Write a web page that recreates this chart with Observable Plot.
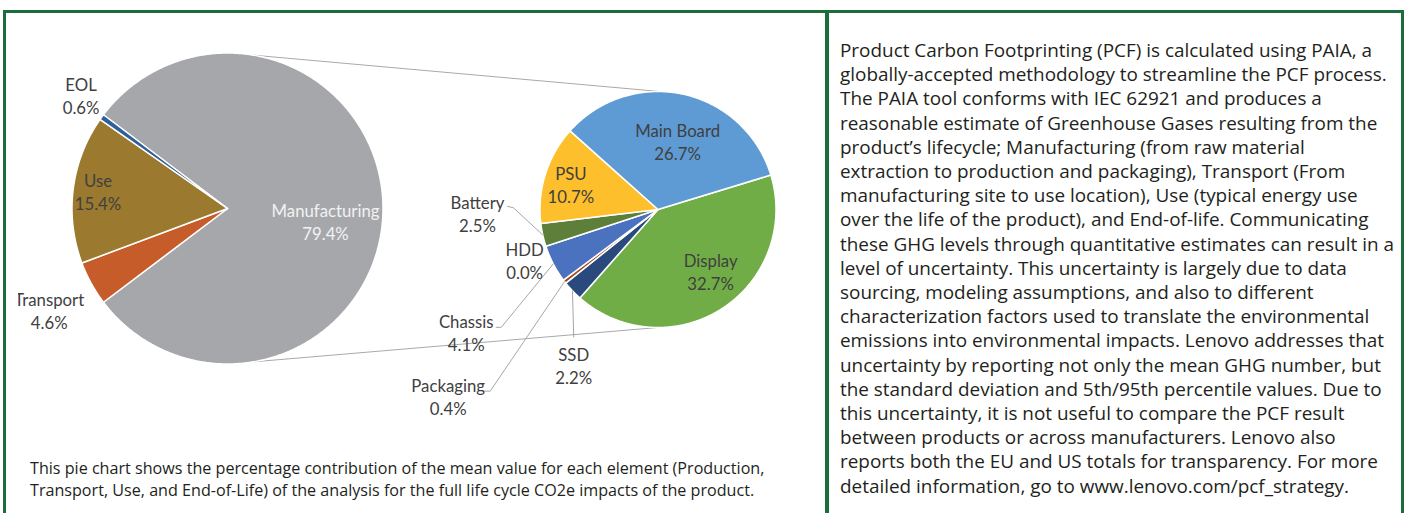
<!DOCTYPE html>
<html><head><meta charset="utf-8">
<script src="https://cdn.jsdelivr.net/npm/d3@7"></script>
<script src="https://cdn.jsdelivr.net/npm/@observablehq/plot@0.6"></script>
<style>
html,body{margin:0;padding:0;background:#fff;}
#root{position:relative;width:1407px;height:513px;overflow:hidden;background:#fff;}
.b{position:absolute;background:#1b6d3c;}
#chart{position:absolute;left:0;top:0;clip-path:inset(0 0 0 18px);}
#caption{position:absolute;left:30px;top:458px;font-family:"Open Sans";color:#231f20;white-space:pre;}
#panel{position:absolute;left:840px;top:38px;font-family:"Open Sans";color:#231f20;white-space:pre;}
</style></head><body>
<div id="root">
  <div id="chart"></div>
  <div class="b" style="left:3px;top:10px;width:1401px;height:3px"></div>
  <div class="b" style="left:3px;top:10px;width:3px;height:503px"></div>
  <div class="b" style="left:825px;top:10px;width:4px;height:503px"></div>
  <div class="b" style="left:1401px;top:10px;width:3px;height:503px"></div>
  <div id="caption"></div>
  <div id="panel"></div>
</div>
<script>
// ---- data ----
const lifeLabels = ["Manufacturing", "Transport", "Use", "EOL"];
const lifeValues = [79.4, 4.6, 15.4, 0.6];
const partLabels = ["Display", "SSD", "Packaging", "Chassis", "HDD", "Battery", "PSU", "Main Board"];
const partValues = [32.7, 2.2, 0.4, 4.1, 0.0, 2.5, 10.7, 26.7];

const lifeColors = ["#a6a7ab", "#c65c2a", "#9b7a2f", "#2f5f99"];
const partColors = ["#71ad47", "#2a4a7d", "#a3461b", "#4a72bf", "#7f7f7f", "#5e7f3a", "#fdbf2b", "#5e9bd4"];

const captionLines = [
  "This pie chart shows the percentage contribution of the mean value for each element (Production,",
  "Transport, Use, and End-of-Life) of the analysis for the full life cycle CO2e impacts of the product."
];
const panelLines = [
  "Product Carbon Footprinting (PCF) is calculated using PAIA, a",
  "globally-accepted methodology to streamline the PCF process.",
  "The PAIA tool conforms with IEC 62921 and produces a",
  "reasonable estimate of Greenhouse Gases resulting from the",
  "product\u2019s lifecycle; Manufacturing (from raw material",
  "extraction to production and packaging), Transport (From",
  "manufacturing site to use location), Use (typical energy use",
  "over the life of the product), and End-of-life. Communicating",
  "these GHG levels through quantitative estimates can result in a",
  "level of uncertainty. This uncertainty is largely due to data",
  "sourcing, modeling assumptions, and also to different",
  "characterization factors used to translate the environmental",
  "emissions into environmental impacts. Lenovo addresses that",
  "uncertainty by reporting not only the mean GHG number, but",
  "the standard deviation and 5th/95th percentile values. Due to",
  "this uncertainty, it is not useful to compare the PCF result",
  "between products or across manufacturers. Lenovo also",
  "reports both the EU and US totals for transparency. For more",
  "detailed information, go to www.lenovo.com/pcf_strategy."
];

// ---- layout ----
const W = 826, H = 455;
const deg = Math.PI / 180;
const big = {cx: 227, cy: 208, r: 155.5, start: 90 - lifeValues[0] * 1.8};
const small = {cx: 657.5, cy: 209, r: 118, start: 73};
// label placement: [radius factor, angle nudge in degrees]
const lifeLabelPos = {"Manufacturing": [0.636, 7.6], "Transport": [1.32, -0.9], "Use": [0.84, 0.3], "EOL": [1.19, 1.7]};
const partLabelPos = {"Display": [0.69, -7.5], "SSD": [1.5, -18], "Packaging": [2.38, -4], "Chassis": [1.93, -5.2],
  "HDD": [1.21, -2.8], "Battery": [1.53, 11.4], "PSU": [0.77, -1], "Main Board": [0.60, 3.7]};
// leader attachment offsets relative to label center
const leaderPos = {"Battery": [[30, -6.5], [36, -5]], "Chassis": [[30, -5], [35, -5]],
  "Packaging": [[37, -5], [42, -5]], "SSD": [[0, -28], [0, -28]]};
const fontUI = "Lato";

function measure(text, font) {
  const c = measure.c || (measure.c = document.createElement("canvas").getContext("2d"));
  c.font = font; return c.measureText(text).width;
}
function fitSize(text, family, target) { return 100 * target / measure(text, `100px "${family}"`); }

function slices(labels, values, g) {
  const a0 = g.start * deg;
  const arcs = d3.pie().sort(null).startAngle(a0).endAngle(a0 + 2 * Math.PI)(values);
  return arcs.map((a, i) => ({key: labels[i], value: values[i], a0: a.startAngle, a1: a.endAngle, mid: (a.startAngle + a.endAngle) / 2, g}));
}
function polygon(s) {
  const g = s.g, pts = [{key: s.key, x: g.cx, y: g.cy}];
  const n = Math.max(2, Math.ceil((s.a1 - s.a0) / (0.5 * deg)));
  for (let k = 0; k <= n; k++) {
    const t = s.a0 + (s.a1 - s.a0) * k / n;
    pts.push({key: s.key, x: g.cx + g.r * Math.sin(t), y: g.cy - g.r * Math.cos(t)});
  }
  return pts;
}
const polar = (g, ang, f) => ({x: g.cx + g.r * f * Math.sin(ang), y: g.cy - g.r * f * Math.cos(ang)});

const lifeSl = slices(lifeLabels, lifeValues, big);
const partSl = slices(partLabels, partValues, small);
const polys = [...lifeSl, ...partSl].filter(s => s.value > 0).flatMap(polygon);

function labelRows(sl, pos) {
  return sl.map(s => {
    const [f, nud] = pos[s.key];
    const p = polar(s.g, s.mid + nud * deg, f);
    return {key: s.key, text: `${s.key}\n${s.value.toFixed(1)}%`, x: p.x, y: p.y, s};
  });
}
const lifeLab = labelRows(lifeSl, lifeLabelPos);
const partLab = labelRows(partSl, partLabelPos);

const leaders = partLab.filter(d => leaderPos[d.key]).flatMap(d => {
  const [p1, p2] = leaderPos[d.key];
  const e = polar(d.s.g, d.s.mid, 1);
  return [{k: d.key, x: d.x + p1[0], y: d.y + p1[1]}, {k: d.key, x: d.x + p2[0], y: d.y + p2[1]}, {k: d.key, x: e.x, y: e.y}];
});

const connectors = [
  {a: polar(big, 9.6 * deg, 1), b: polar(small, 1 * deg, 1)},
  {a: polar(big, 170.4 * deg, 1), b: polar(small, 180 * deg, 1)}
];

const labelSize = fitSize("Main Board", fontUI, 85);

const chart = Plot.plot({
  width: W, height: H, margin: 0,
  x: {domain: [0, W], range: [0, W], axis: null},
  y: {domain: [0, H], range: [0, H], axis: null},
  color: {domain: [...lifeLabels, ...partLabels], range: [...lifeColors, ...partColors]},
  style: {background: "transparent", fontFamily: fontUI},
  marks: [
    Plot.link(connectors, {x1: d => d.a.x, y1: d => d.a.y, x2: d => d.b.x, y2: d => d.b.y, stroke: "#a9a9a9", strokeWidth: 1}),
    Plot.line(polys, {x: "x", y: "y", z: "key", fill: "key", stroke: "white", strokeWidth: 1.5, curve: "linear-closed"}),
    Plot.line(leaders, {x: "x", y: "y", z: "k", stroke: "#a6a6a6", strokeWidth: 1}),
    Plot.text([...lifeLab, ...partLab], {x: "x", y: "y", text: "text", lineHeight: 23 / labelSize, lineAnchor: "middle",
      fontSize: labelSize, fill: d => d.key === "Manufacturing" ? "#f2f2f2" : "#404040"})
  ]
});
document.getElementById("chart").appendChild(chart);

// caption & panel text
const cap = document.getElementById("caption");
const capSize = fitSize(captionLines[0], "Open Sans", 735);
cap.style.fontSize = capSize + "px"; cap.style.lineHeight = "21.5px";
cap.textContent = captionLines.join("\n");

const pan = document.getElementById("panel");
const panSize = fitSize(panelLines[1], "Open Sans", 547);
pan.style.fontSize = panSize + "px"; pan.style.lineHeight = "24.2px";
pan.textContent = panelLines.join("\n");
</script>
</body></html>
